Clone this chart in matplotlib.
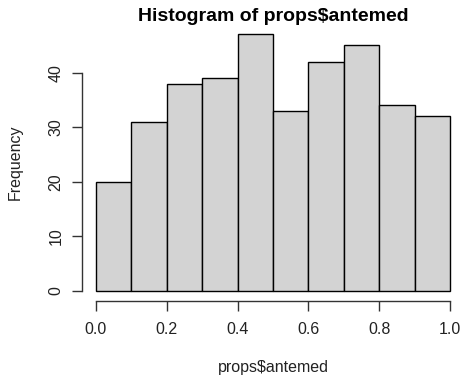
import matplotlib
matplotlib.use("Agg")
import matplotlib.pyplot as plt

plt.rcParams['font.family'] = ['Liberation Sans', 'DejaVu Sans']

# histogram of props$antemed: bin edges and counts
breaks = [0.0, 0.1, 0.2, 0.3, 0.4, 0.5, 0.6, 0.7, 0.8, 0.9, 1.0]
counts = [20, 31, 38, 39, 47, 33, 42, 45, 34, 32]
x_ticks = [0.0, 0.2, 0.4, 0.6, 0.8, 1.0]
y_ticks = [0, 10, 20, 30, 40]

fig = plt.figure(figsize=(4.61, 3.79), dpi=100)
# plot region laid out like R's default margins
ax = fig.add_axes([0.1774, 0.205, 0.8296, 0.7314])

ax.bar(breaks[:-1], counts, width=0.1, align='edge',
       color='#D3D3D3', edgecolor='black', linewidth=1)

# R pads the data range by 4% on each side
xr = breaks[-1] - breaks[0]
ax.set_xlim(breaks[0] - 0.04 * xr, breaks[-1] + 0.04 * xr)
ymax = max(counts)
ax.set_ylim(-0.04 * ymax, ymax * 1.04)

for s in ['top', 'right']:
    ax.spines[s].set_visible(False)
ax.spines['left'].set_bounds(y_ticks[0], y_ticks[-1])
ax.spines['bottom'].set_bounds(x_ticks[0], x_ticks[-1])
for s in ['left', 'bottom']:
    ax.spines[s].set_color('#333333')
    ax.spines[s].set_linewidth(1)

ax.set_xticks(x_ticks)
ax.set_xticklabels(['%.1f' % v for v in x_ticks])
ax.set_yticks(y_ticks)
ax.set_yticklabels([str(v) for v in y_ticks], rotation=90, va='center')
ax.tick_params(axis='both', length=7, width=1, color='#333333',
               labelsize=11.5, labelcolor='#222222')
ax.tick_params(axis='x', pad=8)
ax.tick_params(axis='y', pad=6)

ax.set_title('Histogram of props$antemed', fontsize=14, fontweight='bold',
             y=1.026, va='center', pad=0)
ax.set_xlabel('props$antemed', fontsize=11.5, color='#222222', va='center')
ax.xaxis.set_label_coords(0.5, -0.237)
ax.set_ylabel('Frequency', fontsize=11.5, color='#222222', va='center')
ax.yaxis.set_label_coords(-0.175, 0.5)

fig.savefig('out.png', dpi=100)
